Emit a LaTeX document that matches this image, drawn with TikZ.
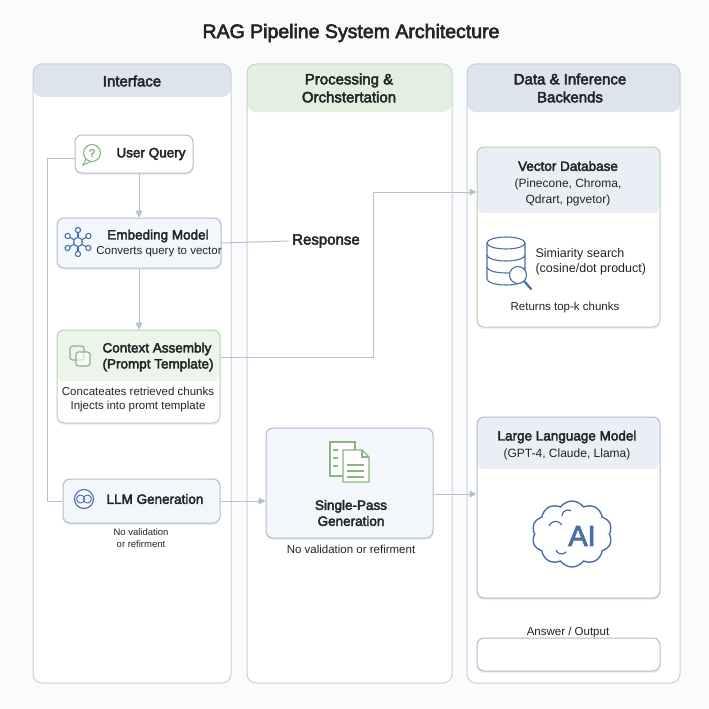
\documentclass[tikz,border=0pt]{standalone}
\usepackage{fontspec}
\setmainfont{Liberation Sans}
\newfontfamily\medfont{Liberation Sans}[FakeBold=3]
\usetikzlibrary{arrows.meta,shadows,shapes.symbols,positioning}

\definecolor{ink}{HTML}{222426}
\definecolor{pagebg}{HTML}{FAFBFC}
\definecolor{laneline}{HTML}{C9D0DA}
\definecolor{hdrblue}{HTML}{DEE4ED}
\definecolor{hdrgreen}{HTML}{E3EFDF}
\definecolor{cardblue}{HTML}{AFBCD0}
\definecolor{cardgreen}{HTML}{B5D2AE}
\definecolor{cardfill}{HTML}{F3F6FA}
\definecolor{bandblue}{HTML}{EAEFF5}
\definecolor{bandgreen}{HTML}{EDF5EA}
\definecolor{iconblue}{HTML}{4A6FA8}
\definecolor{icongreen}{HTML}{88B581}
\definecolor{linkgray}{HTML}{B7C1CE}

\newcommand\fsz[2]{\fontsize{#1}{#2}\selectfont}

\tikzset{
  lane/.style={draw=laneline, line width=1pt, fill=white, rounded corners=9pt},
  card/.style={draw=cardblue, line width=1pt, fill=cardfill, rounded corners=7pt,
    drop shadow={opacity=0.12, shadow xshift=0pt, shadow yshift=-2pt}},
  greencard/.style={card, draw=cardgreen},
  band/.style 2 args={path picture={\fill[#1] (path picture bounding box.north west)
    rectangle ([yshift=-#2]path picture bounding box.north east);}},
  heading/.style={font=\medfont\fsz{15}{18}, text=ink, align=center},
  boxtitle/.style={font=\medfont\fsz{13.5}{16}, text=ink, align=center},
  boxtext/.style={font=\fsz{11.5}{14}, text=ink, align=center},
  note/.style={font=\fsz{9.5}{12}, text=ink, align=center},
  link/.style={draw=linkgray, line width=1pt},
  arrow/.style={link, -{Triangle[width=7pt,length=7pt]}},
  icon/.style={line width=1.1pt},
}

\begin{document}
\begin{tikzpicture}[x=1pt,y=-1pt]
  % page
  \fill[pagebg] (0,0) rectangle (709,709);
  \useasboundingbox (0,0) rectangle (709,709);

  \node[font=\medfont\fsz{19.5}{22}, text=ink] (title) at (351,33) {RAG Pipeline System Architecture};

  % lanes
  \node[lane, minimum width=198pt, minimum height=619pt, band={hdrblue}{33pt}] (interface) at (132,373.5) {};
  \node[lane, minimum width=205pt, minimum height=619pt, band={hdrgreen}{48pt}] (processing) at (349.5,373.5) {};
  \node[lane, minimum width=213pt, minimum height=619pt, band={hdrblue}{48pt}] (backends) at (573.5,373.5) {};
  \node[heading] (interface-title) at (132,81) {Interface};
  \node[heading] (processing-title) at (349,88) {Processing \&\\Orchstertation};
  \node[heading] (backends-title) at (570,88) {Data \& Inference\\Backends};

  % interface lane
  \node[card, fill=white, minimum width=118pt, minimum height=38pt] (uq) at (134,154) {};
  \node[boxtitle] (uq-label) at (151,154) {User Query};
  \node[card, minimum width=164pt, minimum height=50pt] (embed) at (139,243) {};
  \node[boxtitle] (embed-label) at (158,236) {Embeding Model};
  \node[boxtext] (embed-text) at (159,252) {Converts query to vector};
  \node[greencard, fill=white, band={bandgreen}{51pt}, minimum width=163pt, minimum height=93pt] (context) at (138.5,376.5) {};
  \node[boxtitle, align=left, anchor=west] (context-label) at (99,357) {Context Assembly\\(Prompt Template)};
  \node[boxtext] (context-text) at (138,400) {Concateates retrieved chunks\\Injects into promt template};
  \node[card, minimum width=157pt, minimum height=44pt] (llmgen) at (141.5,501) {};
  \node[boxtitle] (llmgen-label) at (155,499) {LLM Generation};
  \node[note] (llmgen-note) at (141,538) {No validation\\or refirment};

  % processing lane
  \node[card, minimum width=167pt, minimum height=110pt] (sp) at (349.5,483) {};
  \node[boxtitle] (sp-label) at (351,513) {Single-Pass\\Generation};
  \node[boxtext] (sp-note) at (351,549) {No validation or refirment};
  \node[font=\medfont\fsz{15}{18}, text=ink] (resp) at (326,241) {Response};

  % backends lane
  \node[greencard, fill=white, band={bandblue}{66pt}, minimum width=183pt, minimum height=180pt] (vecdb) at (568.5,237) {};
  \node[boxtitle] (vecdb-label) at (568,166) {Vector Database};
  \node[boxtext, font=\fsz{12}{16}] (vecdb-list) at (568,192) {(Pinecone, Chroma,\\Qdrart, pgvetor)};
  \node[boxtext, font=\fsz{12.5}{15}, align=left, anchor=west] (vecdb-search) at (532,262) {Simiarity search\\(cosine/dot product)};
  \node[boxtext] (vecdb-note) at (565,308) {Returns top-k chunks};
  \node[card, fill=white, band={bandblue}{52pt}, minimum width=183pt, minimum height=181pt] (llm) at (568.5,507.5) {};
  \node[boxtitle] (llm-label) at (567,437) {Large Language Model};
  \node[boxtext, font=\fsz{12}{16}] (llm-list) at (567,454) {(GPT-4, Claude, Llama)};
  \node[cloud, cloud puffs=10, cloud puff arc=110, aspect=1.2, draw=iconblue, line width=1.4pt, fill=white,
    minimum width=80pt, minimum height=66pt] (brain) at (572,534) {};
  \draw[iconblue, line width=1.2pt] (549,526) arc[start angle=200, end angle=330, radius=7];
  \draw[iconblue, line width=1.2pt] (562,516) arc[start angle=180, end angle=300, radius=6];
  \draw[iconblue, line width=1.2pt] (556,550) arc[start angle=160, end angle=40, radius=6];
  \node[text=iconblue, font=\medfont\fsz{29}{29}] (ai) at (582,536) {AI};
  \node[card, fill=white, minimum width=183pt, minimum height=33pt] (answer) at (568.5,654.5) {};
  \node[boxtext] (answer-label) at (568,633) {Answer / Output};

  % icons
  \draw[icon, icongreen, fill=white] (86,159) -- (83,165) -- (91,161.5);
  \draw[icon, icongreen, fill=white] (92,153) circle (8.5);
  \node[text=icongreen, font=\medfont\fsz{11}{11}] (uq-icon) at (92,153) {?};
  \draw[icon, iconblue] (78,242) circle (4.5);
  \foreach \a in {30,90,...,330} {
    \draw[icon, iconblue] (78,242) ++(\a:4.5) -- ++(\a:5);
    \draw[icon, iconblue, fill=white] (78,242) ++(\a:12) circle (2.6);
  }
  \draw[icon, icongreen, rounded corners=2.5pt] (70,346) rectangle (84,360);
  \draw[icon, icongreen, rounded corners=2.5pt, fill=white, fill opacity=0.6] (76,352) rectangle (90,366);
  \draw[icon, iconblue] (84,499) circle (9.5);
  \draw[icon, iconblue, line width=0.9pt] (80.5,499) circle (4) (87.5,499) circle (4);
  \draw[icon, icongreen, fill=white] (330,442) rectangle (355,476);
  \foreach \yy in {450,458,466} \draw[icon, icongreen, line width=2pt] (333,\yy) -- (338,\yy);
  \draw[icon, icongreen, fill=white] (343,450) -- (362,450) -- (369,457) -- (369,482) -- (343,482) -- cycle;
  \draw[icon, icongreen] (362,450) -- (362,457) -- (369,457);
  \foreach \yy in {465,471,477} \draw[icon, icongreen] (347,\yy) -- (364,\yy);
  \draw[icon, iconblue, fill=white] (487,243) -- (487,279)
    arc[start angle=180, end angle=0, x radius=19, y radius=6] -- (525,243);
  \draw[icon, iconblue] (506,243) ellipse (19 and 6);
  \draw[icon, iconblue] (487,255) arc[start angle=180, end angle=0, x radius=19, y radius=6];
  \draw[icon, iconblue] (487,267) arc[start angle=180, end angle=0, x radius=19, y radius=6];
  \draw[icon, iconblue, fill=white] (518,275) circle (8.5);
  \draw[iconblue, line width=2.2pt, line cap=round] (524.5,281.5) -- (531,289);

  % connectors
  \coordinate (loop) at (47,158);
  \draw[link] ([yshift=-4pt]uq.west) -- (loop) |- (llmgen.west);
  \draw[arrow] (uq.south -| embed.north) -- (embed.north);
  \draw[arrow] (embed.south) -- (embed.south |- context.north);
  \draw[link] (embed.east) -- (resp.west);
  \coordinate (riser) at (373,192);
  \draw[arrow] ([yshift=19pt]context.east) -| (riser) -- (riser -| vecdb.west);
  \draw[arrow] (llmgen.east) -- (llmgen.east -| sp.west);
  \draw[arrow] ([yshift=-11pt]sp.east) -- ([yshift=-11pt]sp.east -| llm.west);
\end{tikzpicture}
\end{document}
